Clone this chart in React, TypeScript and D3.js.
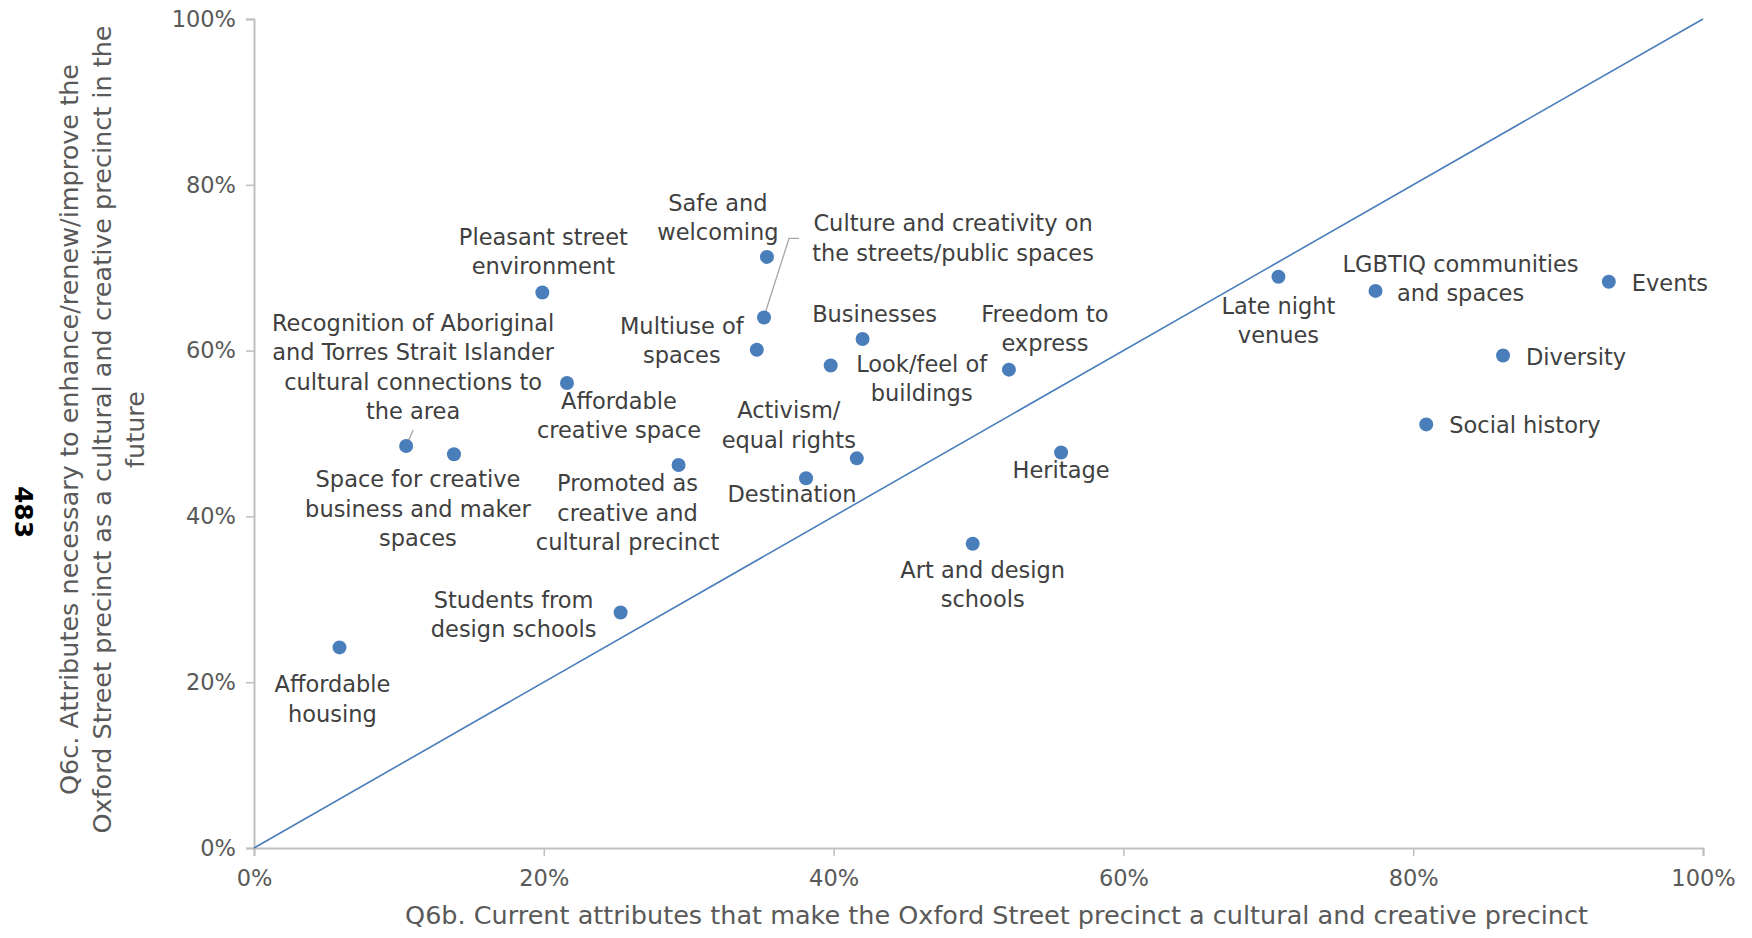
import React, { useEffect, useRef } from 'react';
import * as d3 from 'd3';

// Q6b (current) vs Q6c (future) attribute shares, in %
const attributes = [
  'Affordable housing',
  'Students from design schools',
  'Space for creative business and maker spaces',
  'Recognition of Aboriginal and Torres Strait Islander cultural connections to the area',
  'Affordable creative space',
  'Pleasant street environment',
  'Promoted as creative and cultural precinct',
  'Safe and welcoming',
  'Culture and creativity on the streets/public spaces',
  'Multiuse of spaces',
  'Businesses',
  'Look/feel of buildings',
  'Freedom to express',
  'Activism/ equal rights',
  'Destination',
  'Heritage',
  'Art and design schools',
  'Late night venues',
  'LGBTIQ communities and spaces',
  'Events',
  'Diversity',
  'Social history',
];

const currentPct = [5.9, 25.3, 13.8, 10.5, 21.6, 19.9, 29.3, 35.4, 35.2, 34.7, 42.0, 39.8, 52.1, 41.6, 38.1, 55.7, 49.6, 70.7, 77.4, 93.5, 86.2, 80.9];
const futurePct = [24.2, 28.4, 47.5, 48.5, 56.1, 67.0, 46.2, 71.3, 64.0, 60.1, 61.4, 58.2, 57.7, 47.0, 44.6, 47.7, 36.7, 68.9, 67.2, 68.3, 59.4, 51.1];

// label text as wrapped in the chart
const labelLines = [
  ['Affordable', 'housing'],
  ['Students from', 'design schools'],
  ['Space for creative', 'business and maker', 'spaces'],
  ['Recognition of Aboriginal', 'and Torres Strait Islander', 'cultural connections to', 'the area'],
  ['Affordable', 'creative space'],
  ['Pleasant street', 'environment'],
  ['Promoted as', 'creative and', 'cultural precinct'],
  ['Safe and', 'welcoming'],
  ['Culture and creativity on', 'the streets/public spaces'],
  ['Multiuse of', 'spaces'],
  ['Businesses'],
  ['Look/feel of', 'buildings'],
  ['Freedom to', 'express'],
  ['Activism/', 'equal rights'],
  ['Destination'],
  ['Heritage'],
  ['Art and design', 'schools'],
  ['Late night', 'venues'],
  ['LGBTIQ communities', 'and spaces'],
  ['Events'],
  ['Diversity'],
  ['Social history'],
];

const tickValues = [0, 20, 40, 60, 80, 100];
const xTitle = 'Q6b. Current attributes that make the Oxford Street precinct a cultural and creative precinct';
const yTitleLines = [
  'Q6c. Attributes necessary to enhance/renew/improve the',
  'Oxford Street precinct as a cultural and creative precinct in the',
  'future',
];
const pageNumber = '483';

// label placement relative to its dot (px): [dx, dy of first line, anchor]
const labelOffsets: [number, number, string][] = [
  [-7, 37, 'middle'],
  [-107, -13, 'middle'],
  [-36, 25, 'middle'],
  [7, -123, 'middle'],
  [52, 18, 'middle'],
  [1, -56, 'middle'],
  [-51, 18, 'middle'],
  [-49, -54, 'middle'],
  [189, -94, 'middle'],
  [-75, -24, 'middle'],
  [12, -25, 'middle'],
  [91, -2, 'middle'],
  [36, -56, 'middle'],
  [-68, -48, 'middle'],
  [-14, 16, 'middle'],
  [0, 17, 'middle'],
  [10, 26, 'middle'],
  [0, 29, 'middle'],
  [85, -27, 'middle'],
  [23, 1, 'start'],
  [23, 1, 'start'],
  [23, 1, 'start'],
];

// leader lines (px offsets from dot)
const leaders: { [k: number]: [number, number][] } = {
  3: [[1, -2], [7, -16]],
  8: [[0, -1], [25, -79], [35, -79]],
};

const W = 1752;
const H = 938;
const margin = { left: 254, right: 49, top: 19, bottom: 90 };
const FONT = '"DejaVu Sans", sans-serif';
const BLUE = '#4a7ebb';
const AXIS = '#bfbfbf';

export default function App() {
  const svgRef = useRef<SVGSVGElement>(null);

  useEffect(() => {
    const svg = d3.select(svgRef.current);
    svg.selectAll('*').remove();

    const x = d3.scaleLinear().domain([0, 100]).range([margin.left, W - margin.right]);
    const y = d3.scaleLinear().domain([0, 100]).range([H - margin.bottom, margin.top]);

    const xAxis = d3.axisBottom(x).tickValues(tickValues).tickSize(8).tickPadding(14).tickFormat((d) => d + '%');
    const yAxis = d3.axisLeft(y).tickValues(tickValues).tickSize(8).tickPadding(10).tickFormat((d) => d + '%');

    const gx = svg.append('g').attr('transform', `translate(0, ${y(0)})`).call(xAxis);
    const gy = svg.append('g').attr('transform', `translate(${x(0)}, 0)`).call(yAxis);
    [gx, gy].forEach((g) => {
      g.select('.domain').attr('stroke', AXIS).attr('stroke-width', 2);
      g.selectAll('.tick line').attr('stroke', AXIS).attr('stroke-width', 1.5);
      g.selectAll('.tick text').attr('fill', '#595959').style('font-family', FONT).style('font-size', '22.5px');
    });

    // parity line
    const line = d3.line<number>().x((d) => x(d)).y((d) => y(d));
    svg.append('path')
      .datum([0, 100])
      .attr('d', line)
      .attr('stroke', BLUE)
      .attr('stroke-width', 1.6)
      .attr('fill', 'none');

    // leader lines
    Object.keys(leaders).forEach((k) => {
      const i = +k;
      const cx = x(currentPct[i]);
      const cy = y(futurePct[i]);
      svg.append('path')
        .datum(leaders[i])
        .attr('d', d3.line<[number, number]>().x((p) => cx + p[0]).y((p) => cy + p[1]))
        .attr('stroke', '#a6a6a6')
        .attr('stroke-width', 1.3)
        .attr('fill', 'none');
    });

    svg.append('g')
      .selectAll('circle')
      .data(attributes)
      .join('circle')
      .attr('cx', (_, i) => x(currentPct[i]))
      .attr('cy', (_, i) => y(futurePct[i]))
      .attr('r', 7)
      .attr('fill', BLUE);

    const labels = svg.append('g')
      .style('font-family', FONT)
      .style('font-size', '22.5px')
      .attr('fill', '#404040');

    attributes.forEach((_, i) => {
      const [dx, dy, anchor] = labelOffsets[i];
      const t = labels.append('text')
        .attr('text-anchor', anchor)
        .attr('dominant-baseline', 'central');
      labelLines[i].forEach((s, j) => {
        t.append('tspan')
          .attr('x', x(currentPct[i]) + dx)
          .attr('y', y(futurePct[i]) + dy + j * 29.5)
          .text(s);
      });
    });

    // axis titles
    svg.append('text')
      .attr('x', (x(0) + x(100)) / 2 + 18)
      .attr('y', H - 14)
      .attr('text-anchor', 'middle')
      .attr('fill', '#595959')
      .style('font-family', FONT)
      .style('font-size', '25.5px')
      .text(xTitle);

    const yt = svg.append('text')
      .attr('transform', `translate(69, ${(y(0) + y(100)) / 2 - 4}) rotate(-90)`)
      .attr('text-anchor', 'middle')
      .attr('dominant-baseline', 'central')
      .attr('fill', '#595959')
      .style('font-family', FONT)
      .style('font-size', '25.5px');
    yTitleLines.forEach((s, j) => {
      yt.append('tspan').attr('x', 0).attr('y', j * 33).text(s);
    });

    svg.append('text')
      .attr('transform', `translate(23, 512) rotate(90)`)
      .attr('text-anchor', 'middle')
      .attr('dominant-baseline', 'central')
      .attr('fill', '#000')
      .style('font-family', FONT)
      .style('font-size', '25px')
      .style('font-weight', 'bold')
      .text(pageNumber);
  }, []);

  return (
    <svg ref={svgRef} width={W} height={H} style={{ position: 'absolute', left: 0, top: 0, background: '#fff' }}></svg>
  );
}
